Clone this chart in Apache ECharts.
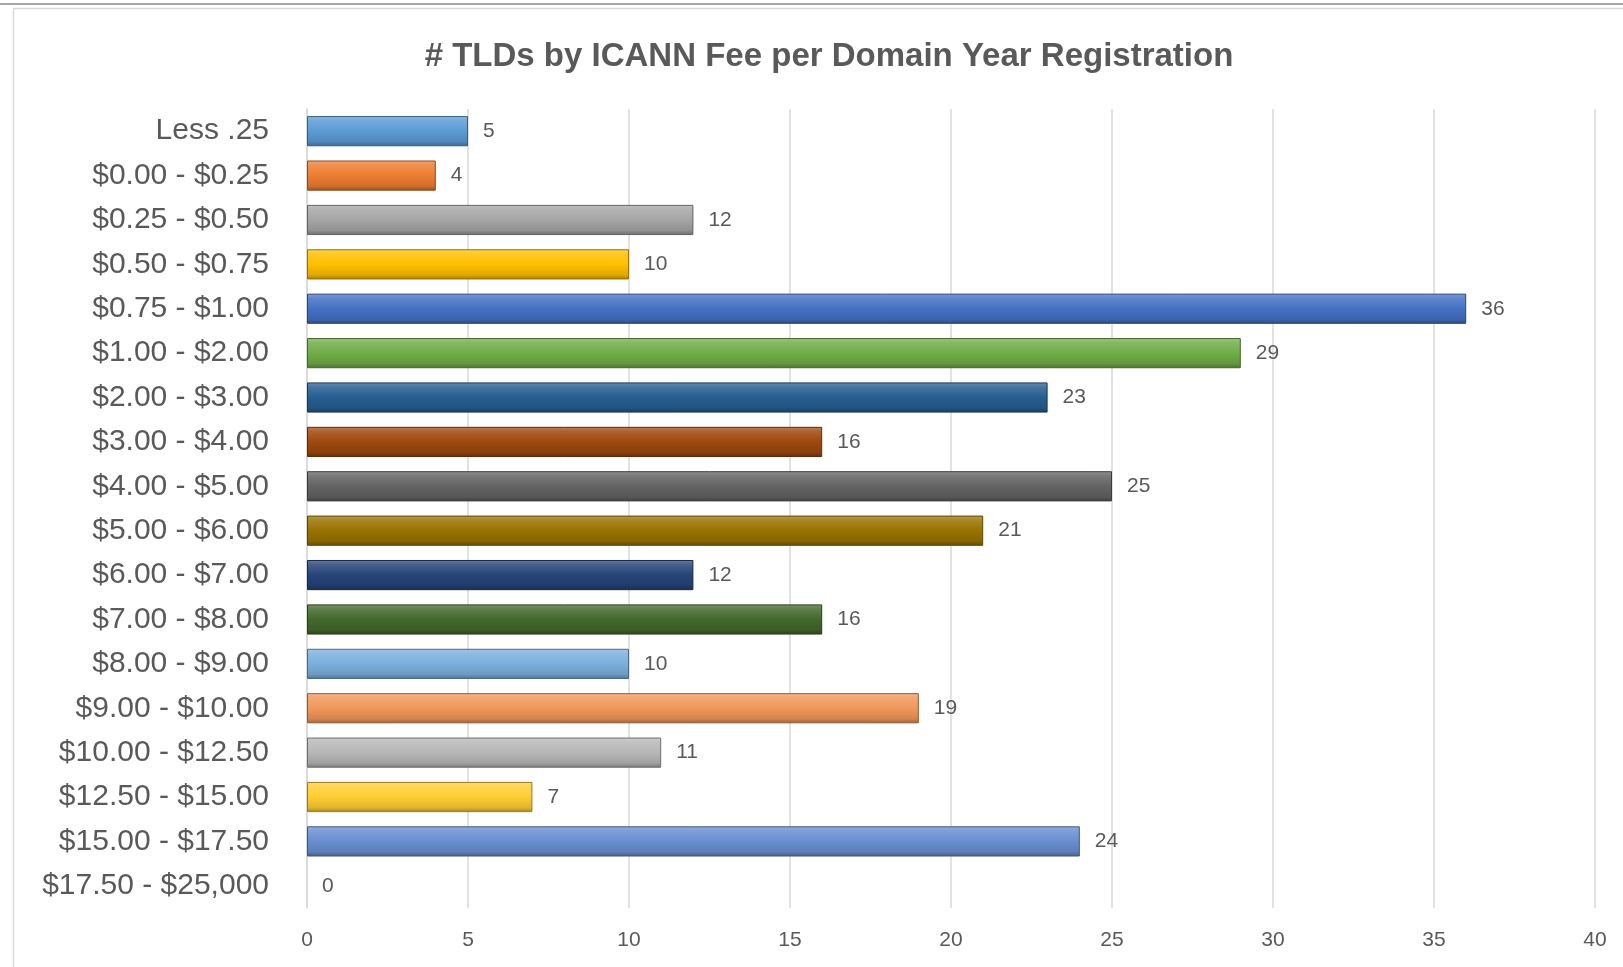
<!DOCTYPE html>
<html>
<head>
<meta charset="utf-8">
<script src="https://cdn.jsdelivr.net/npm/echarts@6/dist/echarts.min.js"></script>
<style>
  html, body { margin: 0; padding: 0; background: #fff; }
  #chart { width: 1623px; height: 967px; }
</style>
</head>
<body>
<div id="chart"></div>
<script>
var categories = [
  "Less .25", "$0.00 - $0.25", "$0.25 - $0.50", "$0.50 - $0.75", "$0.75 - $1.00",
  "$1.00 - $2.00", "$2.00 - $3.00", "$3.00 - $4.00", "$4.00 - $5.00", "$5.00 - $6.00",
  "$6.00 - $7.00", "$7.00 - $8.00", "$8.00 - $9.00", "$9.00 - $10.00", "$10.00 - $12.50",
  "$12.50 - $15.00", "$15.00 - $17.50", "$17.50 - $25,000"
];
var values = [5, 4, 12, 10, 36, 29, 23, 16, 25, 21, 12, 16, 10, 19, 11, 7, 24, 0];
var xTicks = [0, 5, 10, 15, 20, 25, 30, 35, 40];
// excel office palette, vary colors by point
var barColors = [
  "#5B9BD5", "#ED7D31", "#A5A5A5", "#FFC000", "#4472C4", "#70AD47",
  "#255E91", "#9E480E", "#636363", "#997300", "#264478", "#43682B",
  "#7CAFDD", "#F1975A", "#B7B7B7", "#FFCD33", "#698ED0", "#8CC168"
];

// mix a hex colour with white (t>0) or black (t<0)
function shade(hex, t) {
  var n = parseInt(hex.slice(1), 16);
  var c = [(n >> 16) & 255, (n >> 8) & 255, n & 255];
  var target = t > 0 ? 255 : 0;
  var a = Math.abs(t);
  c = c.map(function (v) { return Math.round(v + (target - v) * a); });
  return "rgb(" + c.join(",") + ")";
}

var chart = echarts.init(document.getElementById("chart"));

var data = values.map(function (v, i) {
  var base = barColors[i];
  return {
    value: v,
    itemStyle: {
      color: new echarts.graphic.LinearGradient(0, 0, 0, 1, [
        { offset: 0, color: shade(base, 0.3) },
        { offset: 0.15, color: shade(base, 0.15) },
        { offset: 0.5, color: base },
        { offset: 0.85, color: shade(base, -0.12) },
        { offset: 1, color: shade(base, -0.35) }
      ]),
      borderColor: shade(base, -0.4),
      borderWidth: v === 0 ? 0 : 1
    }
  };
});

var option = {
  backgroundColor: "#fff",
  animation: false,
  title: {
    text: "# TLDs by ICANN Fee per Domain Year Registration",
    left: 824,
    top: 35,
    textAlign: "center",
    textStyle: {
      fontFamily: "Liberation Sans",
      fontSize: 33,
      fontWeight: "bold",
      color: "#595959"
    }
  },
  graphic: [
    { type: "line", shape: { x1: 0, y1: 4, x2: 1623, y2: 4 }, style: { stroke: "#a6a6a6", lineWidth: 2 } },
    { type: "rect", shape: { x: 13.5, y: 8.5, width: 1640, height: 1000 }, style: { fill: null, stroke: "#d9d9d9", lineWidth: 1.5 } }
  ],
  grid: {
    left: 307,
    right: 28,
    top: 109,
    bottom: 59,
    outerBoundsMode: "none"
  },
  xAxis: {
    type: "value",
    min: xTicks[0],
    max: xTicks[xTicks.length - 1],
    interval: 5,
    axisLine: { show: false },
    axisTick: { show: false },
    splitLine: { lineStyle: { color: "#d9d9d9", width: 1.5 } },
    axisLabel: {
      margin: 22,
      fontFamily: "Liberation Sans",
      fontSize: 21,
      color: "#595959"
    }
  },
  yAxis: {
    type: "category",
    data: categories,
    inverse: true,
    axisLine: { show: true, lineStyle: { color: "#d9d9d9", width: 1.5 } },
    axisTick: { show: false },
    axisLabel: {
      margin: 38,
      padding: [9, 0, 0, 0],
      fontFamily: "Liberation Sans",
      fontSize: 30,
      color: "#595959"
    }
  },
  series: [
    {
      type: "bar",
      data: data,
      barCategoryGap: "32%",
      label: {
        show: true,
        position: "right",
        distance: 15,
        padding: [8, 0, 0, 0],
        fontFamily: "Liberation Sans",
        fontSize: 21,
        color: "#595959"
      }
    }
  ]
};

chart.setOption(option);
</script>
</body>
</html>
